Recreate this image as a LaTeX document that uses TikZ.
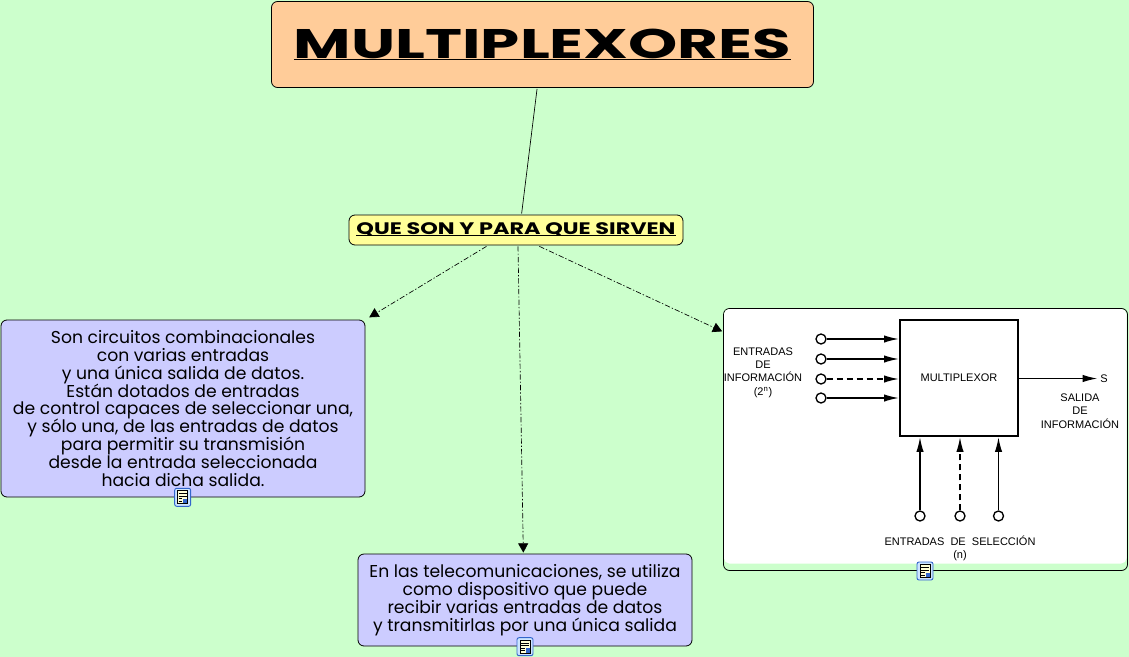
\documentclass[tikz,border=0pt]{standalone}
\usepackage{fontspec}
\setmainfont{Poppins}
\newfontfamily\figfont{Liberation Sans}
\usetikzlibrary{arrows.meta}
\setlength{\lineskiplimit}{-10pt}
\definecolor{mapgreen}{RGB}{204,255,204}
\definecolor{titlefill}{RGB}{255,204,153}
\definecolor{subfill}{RGB}{255,255,153}
\definecolor{textfill}{RGB}{204,204,255}
\definecolor{iconblue}{RGB}{51,102,204}
\definecolor{iconfill}{RGB}{204,229,255}
\definecolor{iconpage}{RGB}{255,255,214}
\newcommand{\underbase}[1]{\sbox0{#1}\usebox0\llap{\rule[-0.7pt]{\wd0}{0.7pt}}}
\tikzset{
  mapbox/.style={draw=black,line width=0.6pt,rounded corners=4.5pt,inner sep=0pt,outer sep=1pt,align=center},
  textbox/.style={mapbox,fill=textfill,font=\fontsize{12.9pt}{13.45pt}\selectfont},
  linkline/.style={draw=black,line width=0.5pt},
  linkarrow/.style={linkline,dash pattern={on 4pt off 1.5pt on 1pt off 1.5pt},-{Triangle[length=7pt,width=7.5pt]}},
  figwire/.style={draw=black,line width=1pt,-{Latex[length=11pt,width=5.5pt]}},
  figdash/.style={figwire,dash pattern={on 4.5pt off 3pt}},
  figpin/.style={circle,draw=black,line width=1pt,fill=white,minimum size=7.5pt,inner sep=0pt},
  figtext/.style={font=\figfont\fontsize{8.25pt}{10pt}\selectfont,align=center,inner sep=0pt},
  noteicon/.pic={
    \draw [draw=iconblue,fill=iconfill,line width=0.7pt,rounded corners=1.5pt] (-8,-9) rectangle (8,9);
    \draw [draw=black,fill=iconpage,line width=0.5pt] (-5,-6.5) rectangle (5,6.5);
    \fill [iconblue] (0.5,-6) rectangle (4.5,-1.5);
    \draw [line width=0.5pt] (-4,-4) -- (-0.5,-4) (-4,-1.5) -- (-0.5,-1.5) (-4,1) -- (4,1) (-4,3.5) -- (4,3.5);
  }
}

\begin{document}
\begin{tikzpicture}[x=0.75pt,y=0.75pt,yscale=-1,xscale=1]
\useasboundingbox [fill=mapgreen] (0,0) rectangle (1129,657);

% Concept boxes
\node (title) [mapbox,fill=titlefill,minimum width=406.5pt,minimum height=64.5pt] at (542.5,44.5)
  {\fontsize{31pt}{31pt}\selectfont\bfseries\underbase{\scalebox{1.515}[1]{MULTIPLEXORES}}};
\node (sub) [mapbox,fill=subfill,minimum width=250.5pt,minimum height=22.5pt] at (516,230)
  {\fontsize{12.5pt}{13pt}\selectfont\bfseries\underbase{\scalebox{1.34}[1]{QUE SON Y PARA QUE SIRVEN}}};
\node (defbox) [textbox,minimum width=273pt,minimum height=132.75pt] at (183,408.5)
  {Son circuitos combinacionales\\ con varias entradas\\ y una única salida de datos.\\ Están dotados de entradas\\ de control capaces de seleccionar una,\\ y sólo una, de las entradas de datos\\ para permitir su transmisión\\ desde la entrada seleccionada\\ hacia dicha salida.};
\node (usebox) [textbox,minimum width=250.5pt,minimum height=69pt] at (525,600)
  {En las telecomunicaciones, se utiliza\\ como dispositivo que puede\\ recibir varias entradas de datos\\ y transmitirlas por una única salida};
\node (figbox) [mapbox,fill=mapgreen,minimum width=303pt,minimum height=196.5pt] at (925.5,439.5) {};

% Picture inside figbox
\fill [white,rounded corners=4pt] (724,309) rectangle (1126.5,563.5);

% Links
\draw [linkline] (title.263.5) -- (sub.71.6);
\draw [linkarrow,shorten >=2.5pt] (sub.209) -- (defbox.26.4);
\draw [linkarrow] (sub.277.6) -- (usebox.92);
\draw [linkarrow] (sub.325.7) -- (figbox.152.1);

% Multiplexer block
\node (mux) [draw=black,line width=1.8pt,minimum width=88.5pt,minimum height=87pt,inner sep=0pt,figtext] at (959,378) {MULTIPLEXOR};
\node (inA) [figpin] at (821,339) {};
\node (inB) [figpin] at (821,359) {};
\node (inC) [figpin] at (821,379) {};
\node (inD) [figpin] at (821,398) {};
\node (selA) [figpin] at (920,516) {};
\node (selB) [figpin] at (960,516) {};
\node (selC) [figpin] at (998.5,516) {};
\node (outS) [figtext] at (1104,378.5) {S};
\draw [figwire] (inA) -- (inA -| mux.west);
\draw [figwire] (inB) -- (inB -| mux.west);
\draw [figdash] (inC) -- (inC -| mux.west);
\draw [figwire] (inD) -- (inD -| mux.west);
\draw [figwire] (selA) -- (selA |- mux.south);
\draw [figdash] (selB) -- (selB |- mux.south);
\draw [figwire] (selC) -- (selC |- mux.south);
\draw [figwire,shorten >=2pt] (outS -| mux.east) -- (outS.west);

% Text Node
\node (inLabel) [figtext] at (763,372.5) {ENTRADAS\\ DE\\ INFORMACIÓN\\ (2\textsuperscript{n})};
\node (outLabel) [figtext] at (1080,411) {SALIDA\\ DE\\ INFORMACIÓN};
\node (selLabel) [figtext] at (960,548.5) {ENTRADAS\ \ DE\ \ SELECCIÓN\\ (n)};

% Note icons
\pic at (182.7,497.3) {noteicon};
\pic at (525,646.7) {noteicon};
\pic at (925,571) {noteicon};
\end{tikzpicture}
\end{document}
